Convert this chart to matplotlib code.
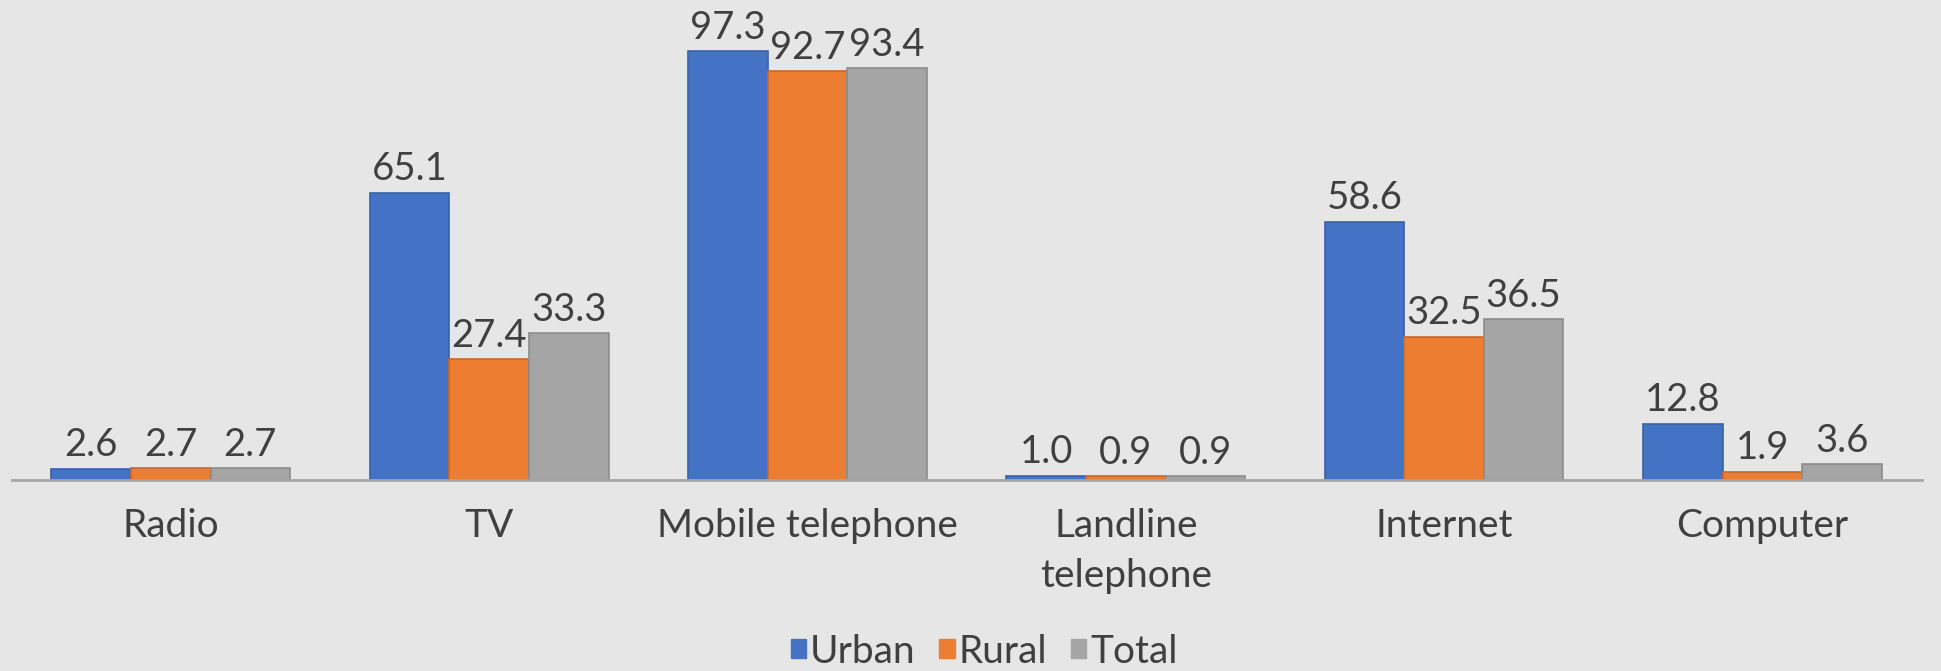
import matplotlib.pyplot as plt
import numpy as np
from matplotlib.patches import Patch

categories = ["Radio", "TV", "Mobile telephone", "Landline\ntelephone", "Internet", "Computer"]
series_names = ["Urban", "Rural", "Total"]
urban = [2.6, 65.1, 97.3, 1.0, 58.6, 12.8]
rural = [2.7, 27.4, 92.7, 0.9, 32.5, 1.9]
total = [2.7, 33.3, 93.4, 0.9, 36.5, 3.6]

colors = ["#4472C4", "#ED7D31", "#A5A5A5"]
edges = ["#3a62a8", "#c9692a", "#8c8c8c"]
bg = "#e6e6e6"
text_color = "#404040"

plt.rcParams["font.family"] = ["Lato", "DejaVu Sans"]

fig = plt.figure(figsize=(19.41, 6.71), dpi=100, facecolor=bg)
ax = fig.add_axes([0.006, 0.2846, 0.984, 0.657], facecolor=bg)

x = np.arange(len(categories))
width = 0.25
for i, (name, vals) in enumerate(zip(series_names, [urban, rural, total])):
    bars = ax.bar(x + (i - 1) * width, vals, width, color=colors[i],
                  edgecolor=edges[i], linewidth=1.2, label=name)
    ax.bar_label(bars, fmt="%.1f", padding=4, fontsize=27.5, color=text_color)

ax.set_xlim(-0.5, len(categories) - 0.5)
ax.set_ylim(0, 100)
ax.set_xticks(x)
ax.set_xticklabels(categories, fontsize=28, color=text_color, linespacing=1.5)
ax.tick_params(axis="x", length=0, pad=20)
ax.set_yticks([])
for side in ["top", "left", "right"]:
    ax.spines[side].set_visible(False)
ax.spines["bottom"].set_color("#a6a6a6")
ax.spines["bottom"].set_linewidth(2)

handles = [Patch(facecolor=c, edgecolor=c) for c in colors]
fig.legend(handles, series_names, loc="lower center", bbox_to_anchor=(0.507, -0.05),
           ncol=3, frameon=False, fontsize=28, handlelength=0.4, handleheight=0.4,
           handletextpad=0.1, columnspacing=0.6, labelcolor=text_color)

fig.savefig("out.png", dpi=100, facecolor=bg)
